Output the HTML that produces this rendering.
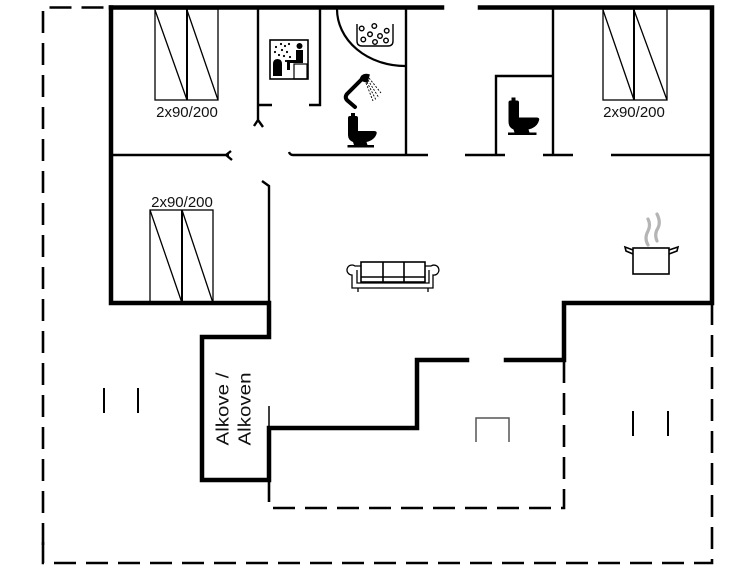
<!DOCTYPE html>
<html><head><meta charset="utf-8"><style>
html,body{margin:0;padding:0;background:#fff;}
svg{display:block;}
</style></head><body>
<svg width="755" height="566" viewBox="0 0 755 566" xmlns="http://www.w3.org/2000/svg">
<rect width="755" height="566" fill="#fff"/>
<!-- dashed outlines -->
<g fill="none" stroke="#000" stroke-width="2.6" stroke-dasharray="22 10">
  <path d="M43,545 V7.5 H108"/>
  <path d="M43,542 V563 H712 V303"/>
  <path d="M269,480 V508 H564 V360"/>
</g>
<!-- thick walls -->
<g fill="none" stroke="#000" stroke-width="4.5" stroke-linejoin="miter" stroke-linecap="square">
  <path d="M111,7.5 H442"/>
  <path d="M480,7.5 H712 V303 H564 V360 H506"/>
  <path d="M111,7.5 V303 H269 V337 H202 V480 H269 V428 H417 V360 H467"/>
</g>
<!-- interior walls -->
<g fill="none" stroke="#000" stroke-width="2.4" stroke-linecap="butt">
  <path d="M258,9 V121 M258,105 H272 M258,120 L254,126 M258,120 L263,127"/>
  <path d="M320,9 V105 H309"/>
  <path d="M406,9 V155"/>
  <path d="M111,155 H229 M226,155 L231,151 M226,155 L232,160"/>
  <path d="M289,152 Q290,155 293,155 H428"/>
  <path d="M553,9 V155"/>
  <path d="M553,76 H496 V155"/>
  <path d="M465,155 H505 M543,155 H573 M611,155 H712"/>
  <path d="M262,181 L269,186 V303"/>
</g>
<path d="M269,406 V428" stroke="#000" stroke-width="1.5"/>
<!-- beds -->
<g fill="none" stroke="#000" stroke-width="1.3">
  <rect x="155" y="9" width="63" height="91"/>
  <path d="M155,10 L187,100 M187,10 L218,100"/>
  <rect x="603" y="9" width="64" height="91"/>
  <path d="M603,10 L634,100 M634,10 L667,100"/>
  <rect x="150" y="210" width="63" height="93"/>
  <path d="M150,210 L182,303 M182,210 L213,303"/>
</g>
<g stroke="#000" stroke-width="2">
  <path d="M187,9 V100 M634,9 V100 M182,210 V303"/>
</g>
<g font-family="Liberation Sans, Arial, sans-serif" font-size="15" fill="#111" text-anchor="middle">
  <text x="187" y="117">2x90/200</text>
  <text x="634" y="117">2x90/200</text>
  <text x="182" y="207">2x90/200</text>
</g>
<!-- Alkove text -->
<g font-family="Liberation Sans, Arial, sans-serif" font-size="17.5" fill="#111" text-anchor="middle">
  <text transform="translate(228.5,409) rotate(-90)" textLength="73" lengthAdjust="spacingAndGlyphs">Alkove /</text>
  <text transform="translate(250.5,409) rotate(-90)" textLength="73" lengthAdjust="spacingAndGlyphs">Alkoven</text>
</g>
<!-- corner bath arc -->
<path d="M337,9 A68,57 0 0 0 405,66" fill="none" stroke="#000" stroke-width="2.2"/>
<!-- bubbles tub -->
<g fill="none" stroke="#000" stroke-width="1.4">
  <path d="M357,24 V41 Q357,46 362,46 H388 Q393,46 393,41 V24"/>
  <circle cx="361.7" cy="28.5" r="2.3"/><circle cx="374.3" cy="26" r="2.3"/><circle cx="386.7" cy="30.7" r="2.3"/>
  <circle cx="370" cy="34.3" r="2.3"/><circle cx="380" cy="36" r="2.3"/><circle cx="363.3" cy="39.5" r="2.3"/>
  <circle cx="375" cy="42" r="2.3"/><circle cx="386" cy="40.5" r="2.3"/>
</g>
<!-- sauna icon -->
<g>
  <rect x="270" y="40" width="38" height="39" fill="none" stroke="#000" stroke-width="1.6"/>
  <path d="M273,76 V64 Q273,59 277.5,59 Q282,59 282,64 V76 Z" fill="#000"/>
  <g fill="#000">
    <circle cx="275" cy="52" r="1.1"/><circle cx="279" cy="55" r="1.1"/><circle cx="282" cy="50" r="1.1"/>
    <circle cx="285" cy="46" r="1.1"/><circle cx="284" cy="56" r="1.1"/><circle cx="287" cy="52" r="1.1"/>
    <circle cx="289" cy="44" r="1.1"/><circle cx="276" cy="47" r="1.1"/><circle cx="286" cy="61" r="1.1"/>
    <circle cx="290" cy="57" r="1.1"/><circle cx="281" cy="44" r="1.1"/>
  </g>
  <circle cx="299.5" cy="46" r="3" fill="#000"/>
  <path d="M296,50 H303 V63 H290 V70 H287 V60 H296 Z" fill="#000"/>
  <rect x="294" y="64" width="13" height="15" fill="none" stroke="#000" stroke-width="1.2"/>
</g>
<!-- shower -->
<g fill="none" stroke="#000">
  <path d="M363,78 L347,94 Q344,98 348,101 L355,107" stroke-width="4" stroke-linecap="round" stroke-linejoin="round"/>
  <path d="M360,80 Q362,73 369,75 L367,82 Z" fill="#000" stroke-width="1.5"/>
  <g stroke-width="0.9" stroke-dasharray="2 1.5">
    <path d="M368,80 L379,98"/><path d="M367,82 L376,100"/><path d="M366,83 L373,101"/><path d="M369,78 L381,93"/>
  </g>
</g>
<!-- toilets -->
<g fill="#000">
  <g transform="translate(347,114)">
    <rect x="4" y="-1" width="4" height="3"/>
    <path d="M1,4 Q1,2 3,2 H9 Q11,2 11,4 V17 H27 Q30.5,17 29.5,20 Q27.5,26 19.5,28 L20.5,31 H27 V33.5 H0.5 V31 H7 L6,28 Q1,26 1,21 Z"/>
  </g>
  <g transform="translate(507.5,98.5)">
    <rect x="4" y="-1" width="4" height="3"/>
    <path d="M1,4 Q1,2 3,2 H9.5 Q11.5,2 11.5,4 V19 H29 Q32.5,19 31.5,22 Q29.5,29 21,31 L22,34 H29 V36.5 H0.5 V34 H7 L6,31 Q1,29 1,23 Z"/>
  </g>
</g>
<!-- sofa -->
<g fill="none" stroke="#000" stroke-width="1.3">
  <rect x="361" y="262" width="64" height="20" stroke-width="1.6"/>
  <path d="M383,262 V282 M404,262 V282 M361,277 H425" stroke-width="1.6"/>
  <path d="M361,266 H355 A5,5 0 1 0 352,275 V288 H433 V275 A5,5 0 1 0 431,266 H425"/>
  <path d="M357,270 V283 H429 V270"/>
  <path d="M358,288 V292 M428,288 V292"/>
</g>
<!-- pot -->
<g fill="none" stroke="#000" stroke-width="1.6">
  <rect x="633" y="248" width="36" height="26"/>
  <path d="M633,250 L625,247 L626,251 L633,254"/>
  <path d="M669,250 L678,247 L677,251 L669,254"/>
</g>
<g fill="none" stroke="#b5b5b5" stroke-width="3.2" stroke-linecap="round">
  <path d="M648,245 Q644,238 648,231 Q651,225 648,219"/>
  <path d="M657,241 Q654,234 658,228 Q661,222 657,214"/>
</g>
<!-- small marks -->
<g stroke="#000" stroke-width="2">
  <path d="M104,388 V413 M138,388 V413 M633,411 V436 M668,411 V436"/>
</g>
<path d="M476,442 V418 H509 V442" fill="none" stroke="#555" stroke-width="1.5"/>
</svg>
</body></html>
